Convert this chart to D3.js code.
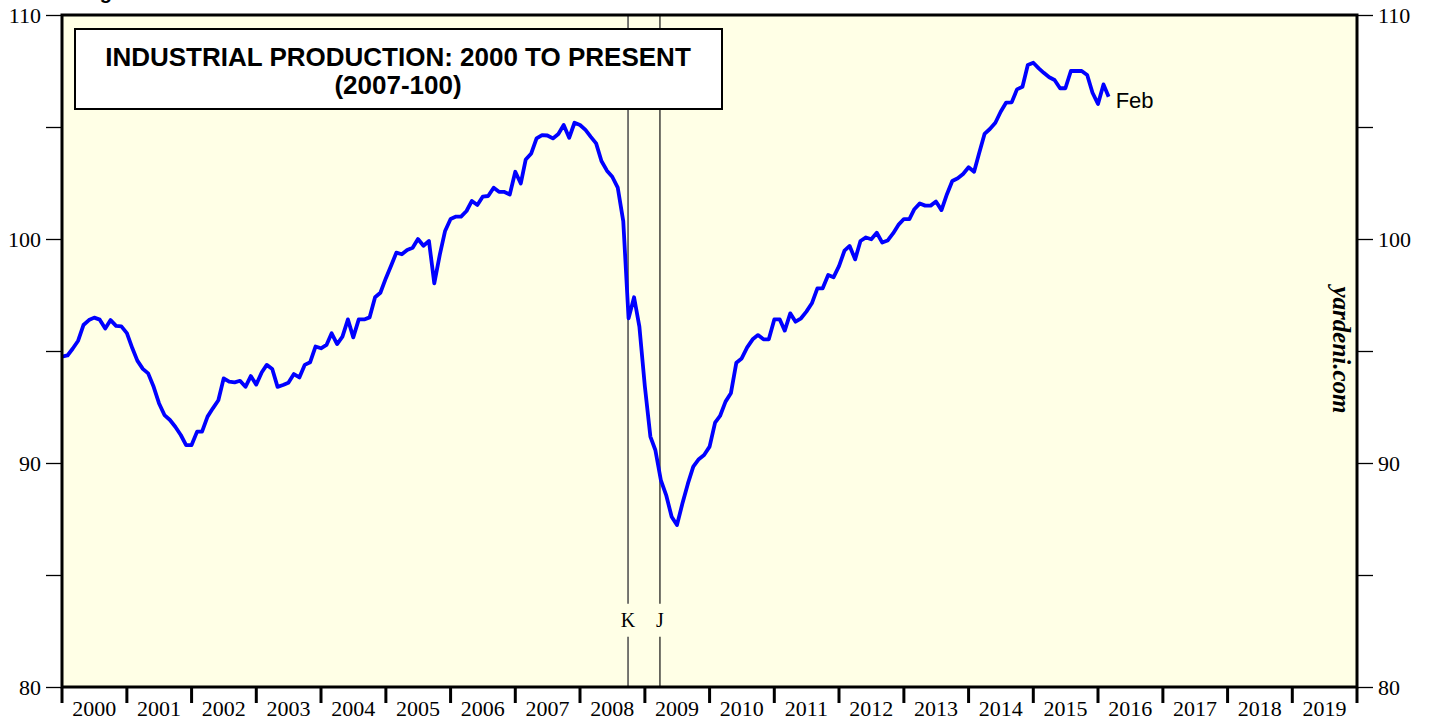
<!DOCTYPE html>
<html lang="en">
<head>
<meta charset="utf-8">
<script src="https://d3js.org/d3.v7.min.js"></script>
<title>Industrial Production</title>
<style>
  body { margin: 0; background: #fff; }
</style>
</head>
<body>
<div id="plot-div"></div>
<script>
  const width = 1429
  const height = 721

  let margin = { top: 15, left: 62, right: 72, bottom: 34 }

  // tick labels
  const years = d3.range(2000, 2020)
  const yTicks = [80, 90, 100, 110]
  const yMinor = [85, 95, 105]

  // industrial production index (2007=100), monthly from Dec 1999 to Feb 2016,
  // each value plotted at the end of its month
  const ipStart = new Date(1999, 11, 1)
  const ip = [
    94.75,
    94.8, 95.1, 95.46, 96.16, 96.38, 96.49, 96.4, 96.0, 96.38, 96.12, 96.1, 95.8,
    95.12, 94.57, 94.2, 94.0, 93.4, 92.67, 92.14, 91.92, 91.62, 91.25, 90.8, 90.8,
    91.4, 91.4, 92.07, 92.44, 92.8, 93.78, 93.63, 93.6, 93.67, 93.4, 93.88, 93.5,
    94.05, 94.38, 94.2, 93.4, 93.48, 93.58, 93.97, 93.82, 94.38, 94.5, 95.2, 95.12,
    95.27, 95.79, 95.31, 95.64, 96.41, 95.61, 96.41, 96.41, 96.5, 97.4, 97.6, 98.25,
    98.84, 99.39, 99.32, 99.51, 99.61, 100.0, 99.7, 99.91, 98.02, 99.29, 100.36, 100.89,
    101.0, 101.0, 101.25, 101.7, 101.52, 101.89, 101.92, 102.29, 102.11, 102.1, 101.99, 103.0,
    102.48, 103.55, 103.82, 104.49, 104.64, 104.62, 104.49, 104.69, 105.09, 104.52, 105.19, 105.09,
    104.87, 104.57, 104.27, 103.48, 103.05, 102.78, 102.29, 100.8, 96.46, 97.4, 96.09, 93.41,
    91.18, 90.58, 89.24, 88.57, 87.6, 87.23, 88.2, 89.09, 89.84, 90.17, 90.36, 90.73,
    91.8, 92.1, 92.74, 93.11, 94.48, 94.67, 95.16, 95.52, 95.71, 95.52, 95.52, 96.41,
    96.41, 95.91, 96.68, 96.31, 96.46, 96.76, 97.13, 97.8, 97.8, 98.39, 98.29, 98.79,
    99.48, 99.69, 99.09, 99.91, 100.07, 99.99, 100.28, 99.84, 99.93, 100.25, 100.63, 100.89,
    100.89, 101.33, 101.59, 101.49, 101.49, 101.67, 101.29, 102.0, 102.59, 102.71, 102.9, 103.2,
    103.0, 103.82, 104.69, 104.91, 105.19, 105.68, 106.09, 106.1, 106.68, 106.8, 107.77, 107.87,
    107.62, 107.42, 107.22, 107.1, 106.73, 106.73, 107.5, 107.5, 107.5, 107.32, 106.53, 106.03,
    106.9, 106.35
  ]

  // event markers
  const events = [
    { label: "K", date: new Date(2008, 8, 28), color: "#555", w: 1.6 },
    { label: "J", date: new Date(2009, 2, 27), color: "#111", w: 1.2 }
  ]

  const data = ip.map((v, i) => ({ date: d3.timeMonth.offset(ipStart, i + 1), value: v }))

  let xScale = d3.scaleTime()
    .domain([new Date(2000, 0, 1), new Date(2020, 0, 1)])
    .range([margin.left, width - margin.right])

  let yScale = d3.scaleLinear()
    .domain([80, 110])
    .range([height - margin.bottom, margin.top])

  const x0 = margin.left, x1 = width - margin.right
  const y0 = margin.top, y1 = height - margin.bottom

  var svg = d3.select("#plot-div")
    .append("svg")
    .attr("width", width)
    .attr("height", height)

  // cut-off page caption
  svg.append("text")
    .attr("x", 82)
    .attr("y", -1)
    .attr("font-family", "Liberation Sans, Arial, sans-serif")
    .attr("font-weight", "bold")
    .attr("font-size", 20)
    .text("Figure 1.")

  // plot background
  svg.append("rect")
    .attr("x", x0).attr("y", y0)
    .attr("width", x1 - x0).attr("height", y1 - y0)
    .attr("fill", "#ffffe6")

  // event lines with a gap for labels
  const labelY = yScale(83.0)
  events.forEach(e => {
    const ex = xScale(e.date)
    svg.append("line")
      .attr("x1", ex).attr("x2", ex)
      .attr("y1", y0).attr("y2", labelY - 16)
      .attr("stroke", e.color).attr("stroke-width", e.w)
    svg.append("line")
      .attr("x1", ex).attr("x2", ex)
      .attr("y1", labelY + 17).attr("y2", y1)
      .attr("stroke", e.color).attr("stroke-width", e.w)
    svg.append("text")
      .attr("x", ex).attr("y", labelY + 7)
      .attr("text-anchor", "middle")
      .attr("font-family", "Liberation Serif, Times New Roman, serif")
      .attr("font-size", 20)
      .text(e.label)
  })

  // title box
  svg.append("rect")
    .attr("x", 75).attr("y", 29)
    .attr("width", 647).attr("height", 80)
    .attr("fill", "#fff")
    .attr("stroke", "#000")
    .attr("stroke-width", 2)
  const title = svg.append("text")
    .attr("text-anchor", "middle")
    .attr("font-family", "Liberation Sans, Arial, sans-serif")
    .attr("font-weight", "bold")
    .attr("font-size", 26)
  title.append("tspan").attr("x", 398).attr("y", 66).text("INDUSTRIAL PRODUCTION: 2000 TO PRESENT")
  title.append("tspan").attr("x", 398).attr("y", 94).text("(2007-100)")

  // data line
  let line = d3.line()
    .x(d => xScale(d.date))
    .y(d => yScale(d.value))

  svg.append("path")
    .datum(data)
    .attr("fill", "none")
    .attr("stroke", "#0000ff")
    .attr("stroke-width", 3.8)
    .attr("stroke-linejoin", "round")
    .attr("d", line)

  const last = data[data.length - 1]
  svg.append("text")
    .attr("x", xScale(last.date) + 7)
    .attr("y", yScale(last.value) + 11)
    .attr("font-family", "Liberation Sans, Arial, sans-serif")
    .attr("font-size", 22)
    .text("Feb")

  // frame
  svg.append("rect")
    .attr("x", x0).attr("y", y0)
    .attr("width", x1 - x0).attr("height", y1 - y0)
    .attr("fill", "none")
    .attr("stroke", "#000")
    .attr("stroke-width", 3)

  // y axes
  const allY = yTicks.concat(yMinor)
  let leftAxis = d3.axisLeft(yScale)
    .tickValues(allY)
    .tickSize(15)
    .tickPadding(5)
    .tickFormat(d => yTicks.includes(d) ? d : "")
  let rightAxis = d3.axisRight(yScale)
    .tickValues(allY)
    .tickSize(15)
    .tickPadding(5)
    .tickFormat(d => yTicks.includes(d) ? d : "")

  const styleAxis = g => {
    g.select(".domain").remove()
    g.selectAll(".tick line").attr("stroke", "#000").attr("stroke-width", 1.3)
    g.selectAll(".tick text")
      .attr("font-family", "Liberation Serif, Times New Roman, serif")
      .attr("font-size", 22)
      .attr("fill", "#000")
  }

  svg.append("g")
    .attr("transform", `translate(${x0 - 1},0)`)
    .call(leftAxis)
    .call(styleAxis)
  svg.append("g")
    .attr("transform", `translate(${x1 + 1},0)`)
    .call(rightAxis)
    .call(styleAxis)

  // x axis: year boundaries as ticks, labels centred in each year
  const xg = svg.append("g")
  xg.selectAll("line")
    .data(years.concat([2020]))
    .join("line")
    .attr("x1", d => xScale(new Date(d, 0, 1)))
    .attr("x2", d => xScale(new Date(d, 0, 1)))
    .attr("y1", y1)
    .attr("y2", y1 + 16)
    .attr("stroke", "#000")
    .attr("stroke-width", 3)
  xg.selectAll("text")
    .data(years)
    .join("text")
    .attr("x", d => xScale(new Date(d, 6, 1)))
    .attr("y", y1 + 29)
    .attr("text-anchor", "middle")
    .attr("font-family", "Liberation Serif, Times New Roman, serif")
    .attr("font-size", 22)
    .text(d => d)

  // source
  svg.append("text")
    .attr("transform", `translate(1333,350) rotate(90)`)
    .attr("text-anchor", "middle")
    .attr("font-family", "Liberation Serif, Times New Roman, serif")
    .attr("font-style", "italic")
    .attr("font-weight", "bold")
    .attr("font-size", 25)
    .text("yardeni.com")
</script>
</body>
</html>
